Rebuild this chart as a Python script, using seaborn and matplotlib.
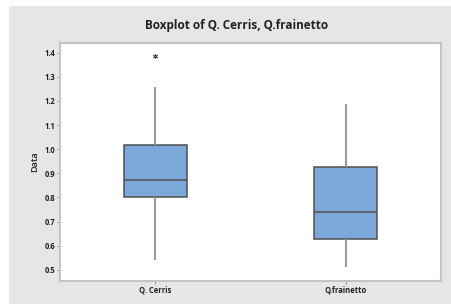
import pandas as pd
import matplotlib.pyplot as plt
from matplotlib.patches import Rectangle
import seaborn as sns

# Valores (resumo de cinco números + outliers)
grupos = ["Q. Cerris", "Q.frainetto"]
whis_low = [0.539, 0.510]
q1 = [0.800, 0.626]
mediana = [0.872, 0.739]
q3 = [1.018, 0.928]
whis_high = [1.257, 1.186]
outliers = [[1.388], []]
yticks = [0.5, 0.6, 0.7, 0.8, 0.9, 1.0, 1.1, 1.2, 1.3, 1.4]

# tabela longa que reproduz os quartis acima
rows = []
for i, g in enumerate(grupos):
    vals = [whis_low[i], q1[i], q1[i], mediana[i], mediana[i], q3[i], q3[i], whis_high[i]] + outliers[i]
    for v in vals:
        rows.append({"grupo": g, "Data": v})
df = pd.DataFrame(rows)

sns.set_style("white")
plt.rcParams['font.family'] = ['Open Sans', 'DejaVu Sans']

fig = plt.figure(figsize=(4.52, 3.04), dpi=100)
fig.patch.set_facecolor("white")
fig.patches.append(Rectangle((9 / 452, 0), 1, 1 - 6 / 304, transform=fig.transFigure,
                             facecolor="#e6e6e6", edgecolor="none", zorder=-10))

ax = fig.add_axes([60 / 452, 23 / 304, 381 / 452, 238 / 304])
ax.set_facecolor("white")

sns.boxplot(data=df, x="grupo", y="Data", ax=ax, width=0.33, color="#7BA7D9",
            saturation=1, linecolor="#505050", linewidth=1.1, showcaps=False,
            whiskerprops=dict(color="#9a9a9a", linewidth=1.5),
            medianprops=dict(color="#505050", linewidth=1.1),
            flierprops=dict(marker=(6, 2, 0), markersize=3.5, markeredgecolor="#555555",
                            markeredgewidth=0.8))

ax.set_xlim(-0.5, 1.5)
ax.set_ylim(0.454, 1.44)
ax.set_yticks(yticks)
ax.set_yticklabels([f"{t:.1f}" for t in yticks])
ax.set_xlabel("")
ax.set_ylabel("Data", fontsize=6.5, fontweight="semibold", labelpad=4)
ax.tick_params(axis="both", direction="out", length=2, width=0.6, color="#888888",
               labelsize=5.5, pad=1.5, left=True, bottom=True)
for lab in ax.get_xticklabels() + ax.get_yticklabels():
    lab.set_fontweight("bold")
    lab.set_color("#222222")
for s in ax.spines.values():
    s.set_color("#c4c4c4")
    s.set_linewidth(1.5)

fig.text(237 / 452, 1 - 26 / 304, "Boxplot of Q. Cerris, Q.frainetto", ha="center", va="center",
         fontsize=8.5, fontweight="bold", color="#222222")

plt.savefig("out.png", dpi=100)
